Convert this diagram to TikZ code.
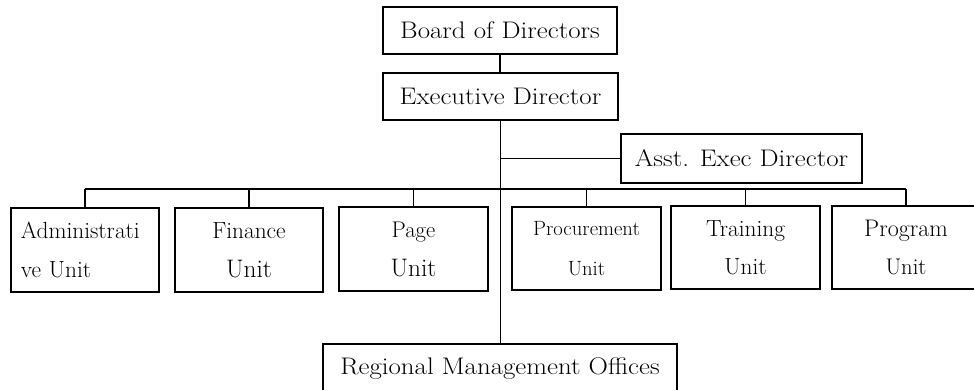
\documentclass[tikz,border=0pt]{standalone}
\usepackage{fontspec}
\setmainfont{Latin Modern Roman}
\newfontfamily\widefont{Latin Modern Roman}[FakeStretch=1.12]
\begin{document}
\begin{tikzpicture}[x=0.75pt,y=-0.75pt,
  box/.style={draw, line width=1.1pt, inner sep=0pt, align=center},
  conn/.style={line width=1.1pt},
  big/.style={font=\widefont\fontsize{18}{29}\selectfont}]
\useasboundingbox (0,0) rectangle (974,389);
\clip (0,0) rectangle (974,389);
% top chain
\node[box, big, minimum width=175.5pt, minimum height=35.25pt] (B) at (500,30.5) {Board of Directors};
\node[box, big, minimum width=176.25pt, minimum height=35.25pt] (E) at (500.5,96.5) {Executive Director};
\node[box, big, minimum width=180.75pt, minimum height=36.75pt] (S) at (741.5,158.5) {Asst. Exec Director};
\node[box, big, minimum width=265.5pt, minimum height=37.5pt] (R) at (500,369) {Regional Management Offices};
% units
\node[box, minimum width=111pt, minimum height=63pt, text width=96pt, inner xsep=7.5pt, align=left,
  font=\fontsize{17.5}{29.25}\selectfont] (A) at (85,250) {Administrati\\ve Unit};
\node[box, minimum width=111pt, minimum height=63pt, font=\fontsize{17.5}{29.25}\selectfont] (F) at (249,250) {Finance\\{\fontsize{19}{29.25}\selectfont Unit}};
\node[box, minimum width=111.75pt, minimum height=63pt, font=\fontsize{17}{29.25}\selectfont] (P) at (413.5,249) {Page\\{\fontsize{19}{29.25}\selectfont Unit}};
\node[box, minimum width=111.75pt, minimum height=62.25pt, font=\fontsize{15.5}{30}\selectfont] (Q) at (586.5,248.5) {Procurement\\Unit};
\node[box, minimum width=111.75pt, minimum height=62.25pt, font=\fontsize{17.5}{28.5}\selectfont] (T) at (745.5,247.5) {Training\\Unit};
\node[box, minimum width=111pt, minimum height=62.25pt, font=\fontsize{17}{28.5}\selectfont] (G) at (906,247.5) {{\fontsize{18}{28.5}\selectfont Program}\\Unit};
% connectors
\coordinate (busy) at (0,189);
\draw[conn] (B.south) -- (B.south |- E.north);
\draw[conn] (E.south) -- (E.south |- R.north);
\draw[conn] (E.south |- S.west) -- (S.west);
\draw[conn] (A.north |- busy) -- (G.north |- busy);
\foreach \n in {A,F,P,Q,T,G}{
  \draw[conn] (\n.north |- busy) -- (\n.north);
}
\end{tikzpicture}
\end{document}
